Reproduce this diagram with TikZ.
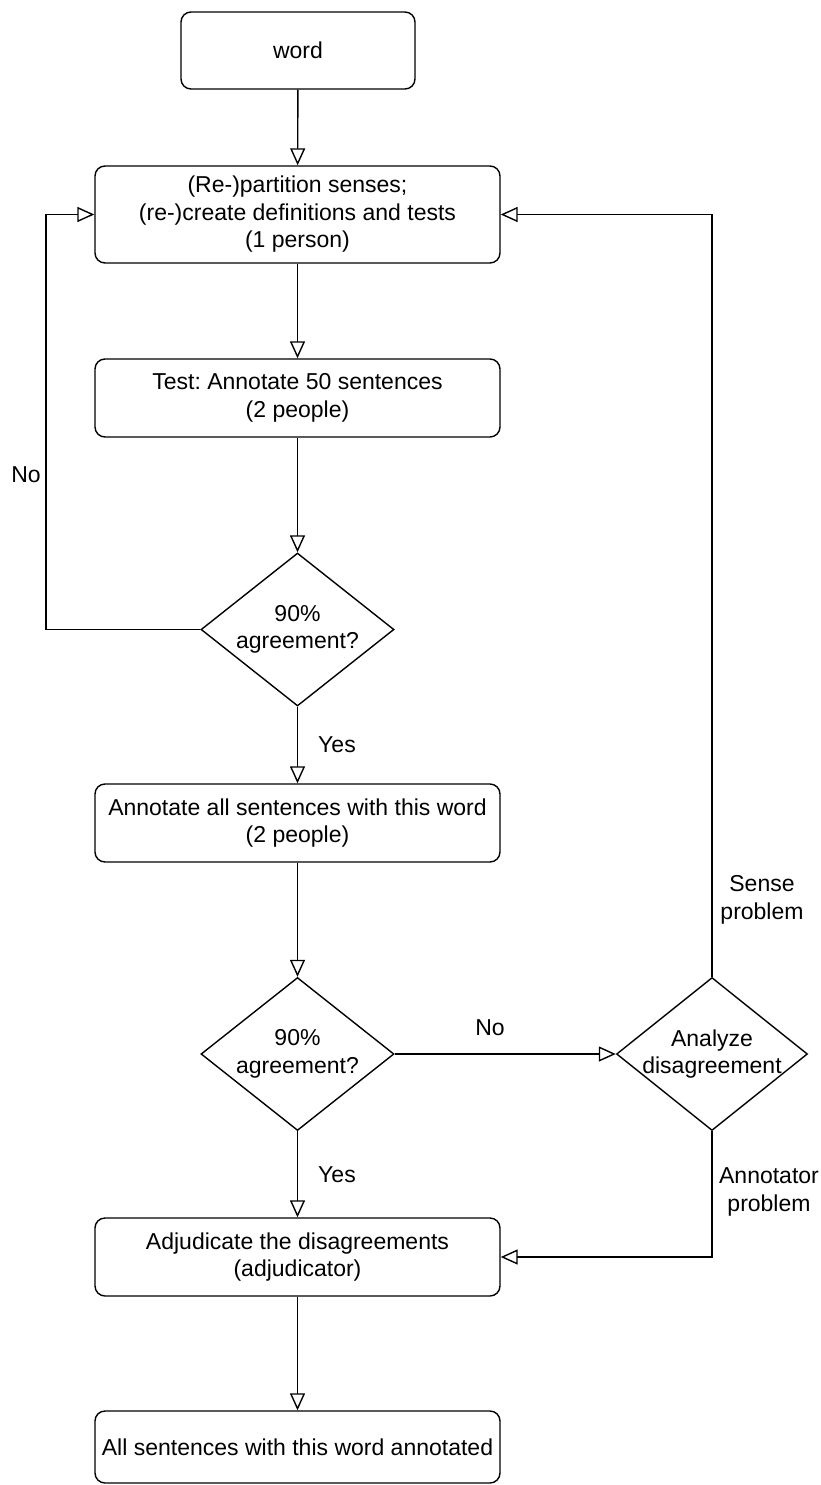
\documentclass[tikz,border=0pt]{standalone}
\usepackage{fontspec}
\setmainfont{Liberation Sans}
\usetikzlibrary{arrows.meta,shapes.geometric}
\frenchspacing
\begin{document}
\begin{tikzpicture}[x=1pt,y=-1pt,
  every node/.style={font=\fontsize{23}{27.5}\selectfont, text=black},
  box/.style={draw, line width=1.4pt, rounded corners=10pt, minimum width=405pt, minimum height=78pt, inner sep=0pt, align=center},
  dia/.style={draw, line width=1.4pt, shape=diamond, minimum width=193pt, minimum height=153pt, inner sep=0pt},
  arr/.style={line width=1.4pt, -{Triangle[open,length=17pt,width=15pt,line width=1.4pt]}},
  lbl/.style={align=center, inner sep=0pt}
]
\useasboundingbox (0,0) rectangle (820,1485);
\node[box, minimum width=234pt, minimum height=77pt] (word) at (298,50.5) {word};
\node[box, minimum height=97pt] (b2) at (297.5,214.5) {(Re-)partition senses;\\(re-)create definitions and tests\\(1 person)};
\node[box] (b3) at (297.5,398) {Test: Annotate 50 sentences\\(2 people)};
\node[dia] (d1) at (297.5,629.5) {};
\node[lbl] (t1) at (d1) {90\%\\agreement?};
\node[box] (b4) at (297.5,823) {Annotate all sentences with this word\\(2 people)};
\node[dia] (d2) at (297.5,1054) {};
\node[lbl] (t2) at (d2) {90\%\\agreement?};
\node[dia, minimum width=191pt] (d3) at (712,1054) {};
\node[lbl] (t3) at (d3) {Analyze\\disagreement};
\node[box] (b5) at (297.5,1257) {Adjudicate the disagreements\\(adjudicator)};
\node[box, minimum height=72pt] (b6) at (297.5,1447) {All sentences with this word annotated};
\coordinate (lx) at (46,0);

\draw[arr] (word) -- (b2);
\draw[arr] (b2) -- (b3);
\draw[arr] (b3) -- (d1);
\draw[arr] (d1) -- (b4);
\draw[arr] (d1.west) -- (d1.west -| lx) -- (b2.west -| lx) -- (b2.west);
\draw[arr] (b4) -- (d2);
\draw[arr] (d2.east) -- (d3.west);
\draw[arr] (d2) -- (b5);
\draw[arr] (d3.north) |- (b2.east);
\draw[arr] (d3.south) |- (b5.east);
\draw[arr] (b5) -- (b6);

\node[lbl] (lno1) at (26,475) {No};
\node[lbl] (lyes1) at (337,745) {Yes};
\node[lbl] (lno2) at (490,1028) {No};
\node[lbl] (lyes2) at (337,1175) {Yes};
\node[lbl] (lsense) at (762,900) {Sense\\problem};
\node[lbl] (lannot) at (769,1192) {Annotator\\problem};
\end{tikzpicture}
\end{document}
